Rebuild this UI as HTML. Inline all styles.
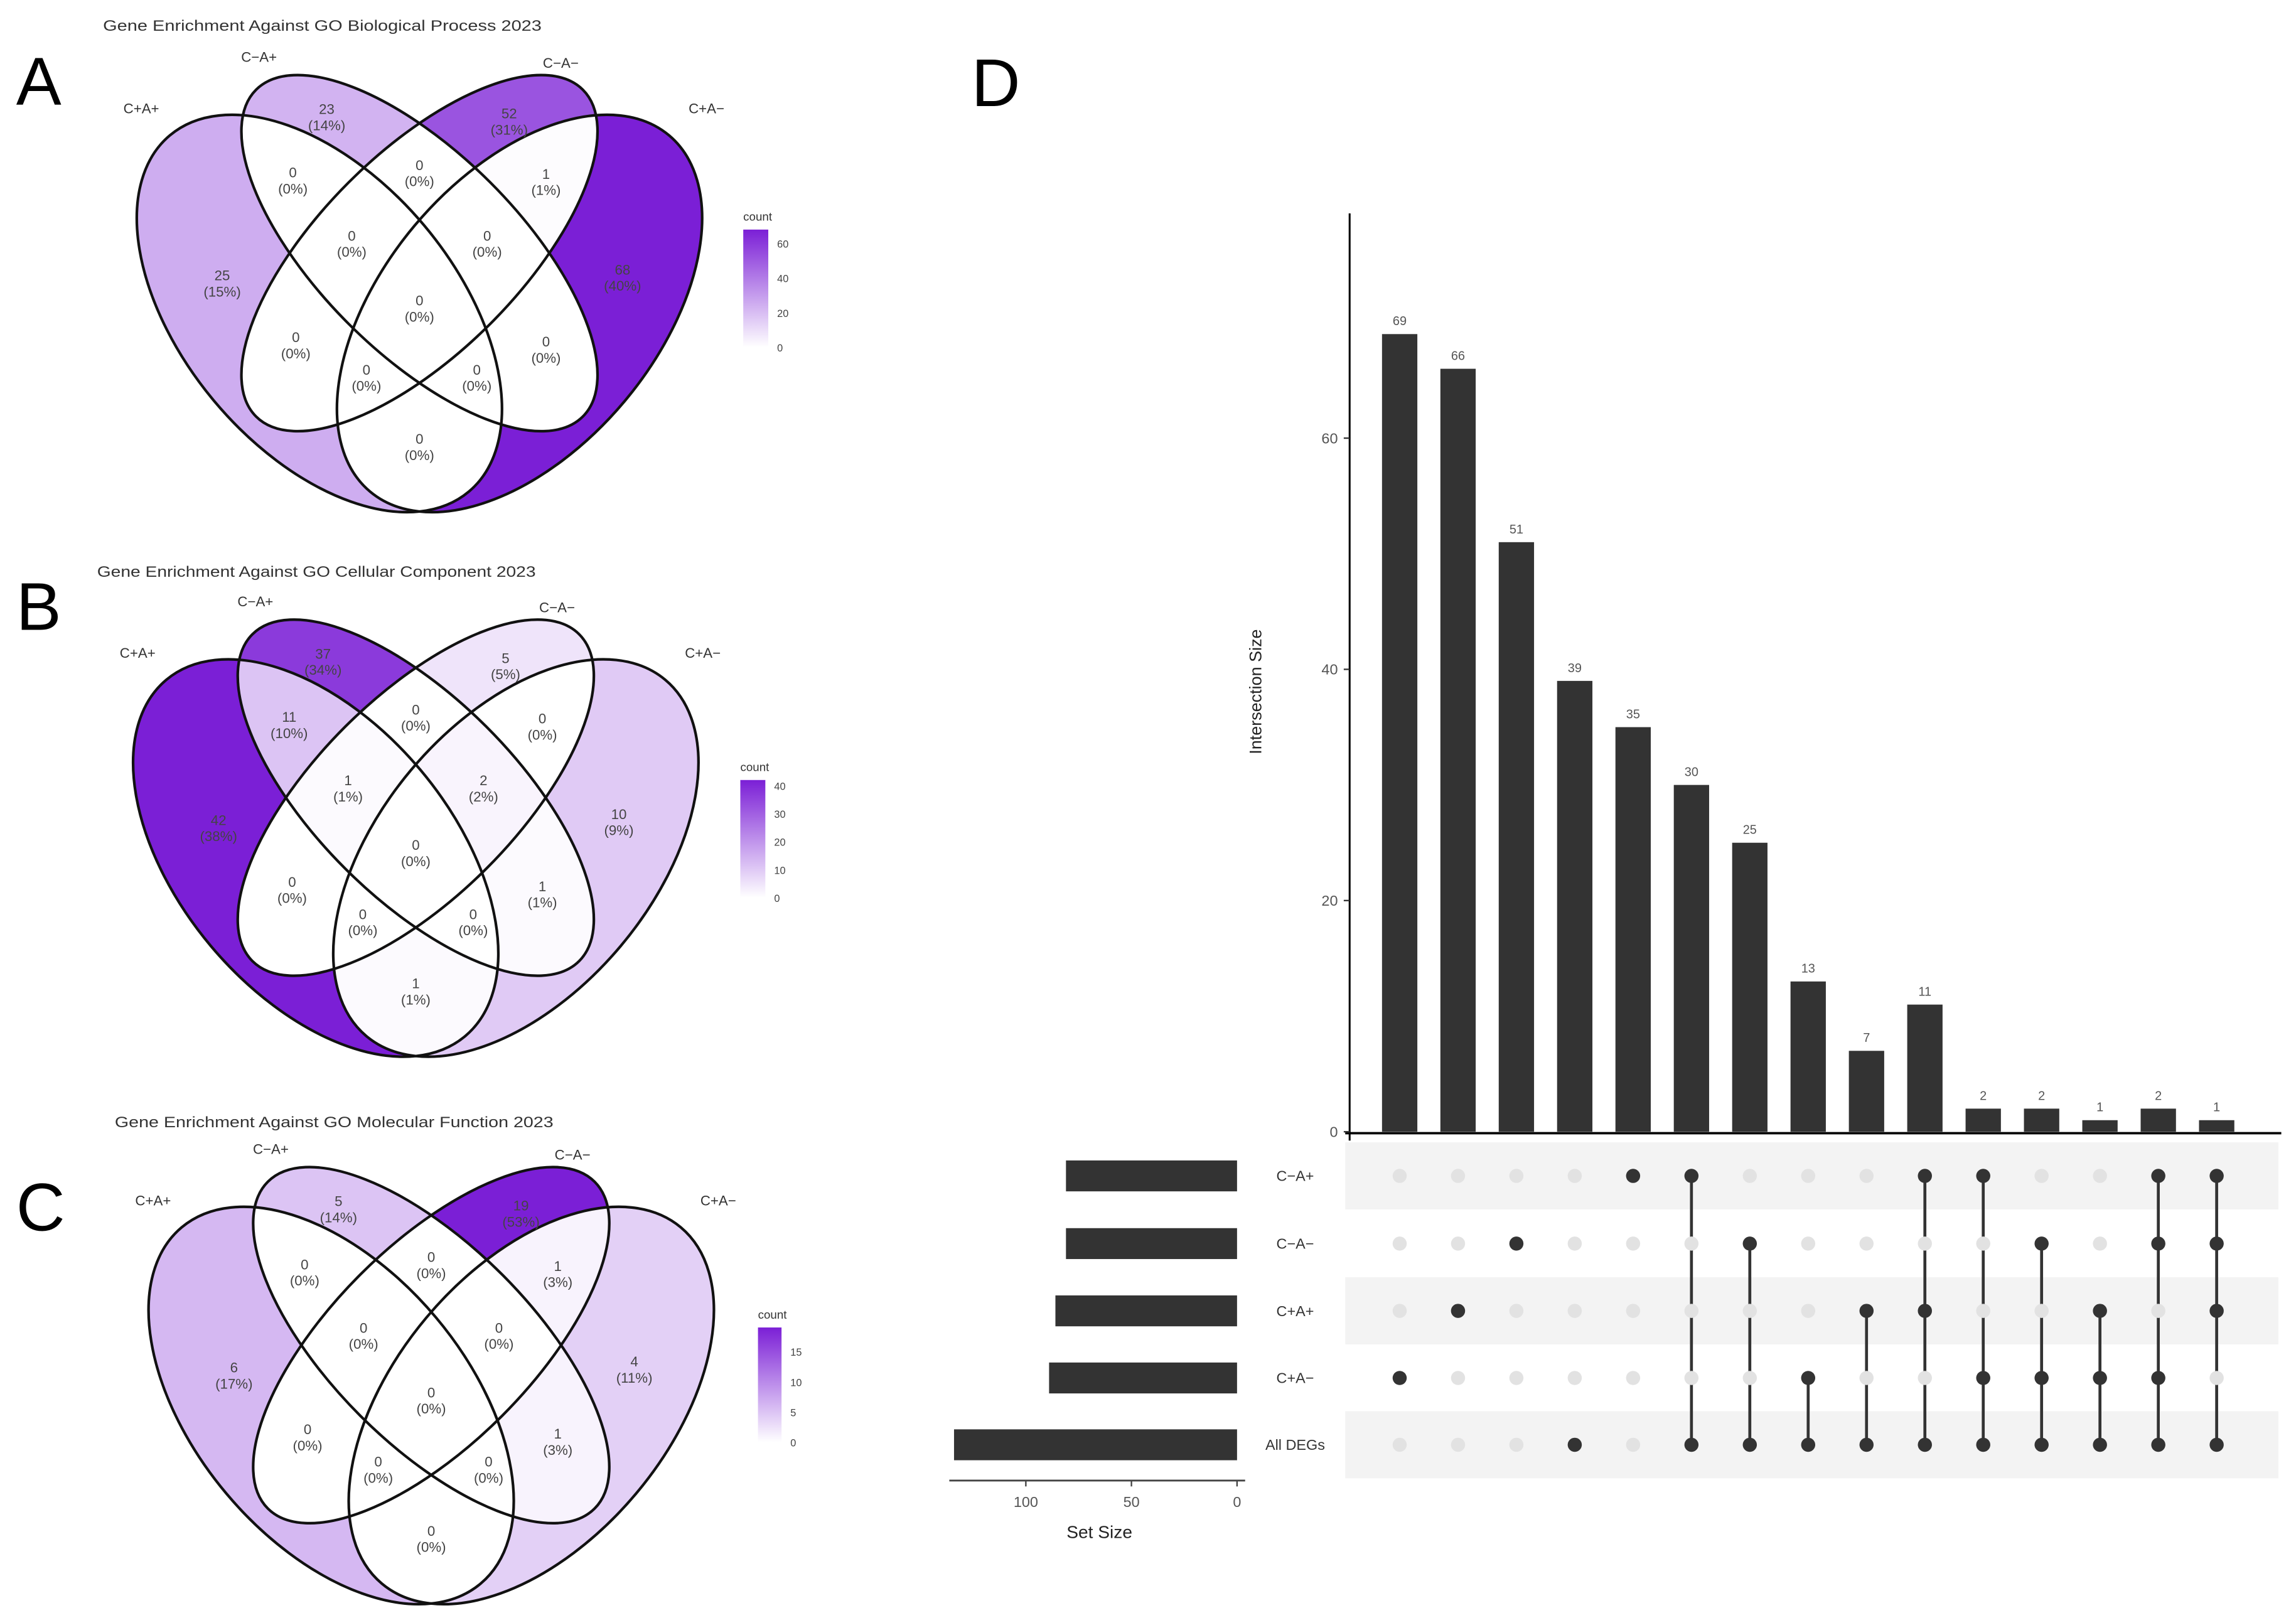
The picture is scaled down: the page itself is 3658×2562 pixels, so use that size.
<!DOCTYPE html>
<html><head><meta charset="utf-8"><style>
html,body{margin:0;padding:0;background:#fff;}
svg{display:block;font-family:"Liberation Sans",sans-serif;}
</style></head><body>
<svg id="root" width="3658" height="2562" viewBox="0 0 1560 1092.6" preserveAspectRatio="none" xmlns="http://www.w3.org/2000/svg">
<defs>
  <clipPath id="in0" clipPathUnits="userSpaceOnUse"><ellipse cx="217" cy="213" rx="158" ry="93" transform="rotate(50 217 213)"/></clipPath>
  <clipPath id="in1" clipPathUnits="userSpaceOnUse"><ellipse cx="285" cy="172" rx="157" ry="68" transform="rotate(45 285 172)"/></clipPath>
  <clipPath id="in2" clipPathUnits="userSpaceOnUse"><ellipse cx="285" cy="172" rx="157" ry="68" transform="rotate(-45 285 172)"/></clipPath>
  <clipPath id="in3" clipPathUnits="userSpaceOnUse"><ellipse cx="353" cy="213" rx="158" ry="93" transform="rotate(-50 353 213)"/></clipPath>
  <mask id="out0" maskUnits="userSpaceOnUse" x="-100" y="-100" width="800" height="700"><rect x="-100" y="-100" width="800" height="700" fill="#fff"/><ellipse cx="217" cy="213" rx="158" ry="93" transform="rotate(50 217 213)" fill="#000"/></mask>
  <mask id="out1" maskUnits="userSpaceOnUse" x="-100" y="-100" width="800" height="700"><rect x="-100" y="-100" width="800" height="700" fill="#fff"/><ellipse cx="285" cy="172" rx="157" ry="68" transform="rotate(45 285 172)" fill="#000"/></mask>
  <mask id="out2" maskUnits="userSpaceOnUse" x="-100" y="-100" width="800" height="700"><rect x="-100" y="-100" width="800" height="700" fill="#fff"/><ellipse cx="285" cy="172" rx="157" ry="68" transform="rotate(-45 285 172)" fill="#000"/></mask>
  <mask id="out3" maskUnits="userSpaceOnUse" x="-100" y="-100" width="800" height="700"><rect x="-100" y="-100" width="800" height="700" fill="#fff"/><ellipse cx="353" cy="213" rx="158" ry="93" transform="rotate(-50 353 213)" fill="#000"/></mask>
  <linearGradient id="lg" x1="0" y1="1" x2="0" y2="0"><stop offset="0" stop-color="#ffffff"/><stop offset="1" stop-color="#7b1fd6"/></linearGradient>
</defs>
<g id="panels"></g>
<g id="upset"></g>
</svg>
<script>
// ---- Venn data ----
const vennTitles = ["Gene Enrichment Against GO Biological Process 2023","Gene Enrichment Against GO Cellular Component 2023","Gene Enrichment Against GO Molecular Function 2023"];
const vennLetters = ["A","B","C"];
const setNames = ["C+A+","C\u2212A+","C\u2212A\u2212","C+A\u2212"];
const countsA = [25,23,52,68,0,0,1,0,0,0,0,0,0,0,0];
const pctA    = [15,14,31,40,0,0,1,0,0,0,0,0,0,0,0];
const countsB = [42,37,5,10,11,0,0,1,2,0,0,1,0,0,1];
const pctB    = [38,34,5,9,10,0,0,1,2,0,0,1,0,0,1];
const countsC = [6,5,19,4,0,0,1,0,0,0,0,1,0,0,0];
const pctC    = [17,14,53,11,0,0,3,0,0,0,0,3,0,0,0];
const legendTicksA = [0,20,40,60];
const legendTicksB = [0,10,20,30,40];
const legendTicksC = [0,5,10,15];
// ---- UpSet data ----
const interSizes = [69,66,51,39,35,30,25,13,7,11,2,2,1,2,1];
const rowNames = ["C\u2212A+","C\u2212A\u2212","C+A+","C+A\u2212","All DEGs"];
const setSizes = [81,81,86,89,134];
const membership = [[3],[2],[1],[4],[0],[0,4],[1,4],[3,4],[2,4],[0,2,4],[0,3,4],[1,3,4],[2,3,4],[0,1,3,4],[0,1,2,4]];
const yTicks = [0,20,40,60];
const setTicks = [100,50,0];

const NS="http://www.w3.org/2000/svg";
function mk(tag,attrs,parent,text){const e=document.createElementNS(NS,tag);for(const k in attrs)e.setAttribute(k,attrs[k]);if(text!==undefined)e.textContent=text;parent.appendChild(e);return e;}

// region geometry (layout, in panel-local coordinates)
const regMember=[[1,0,0,0],[0,1,0,0],[0,0,1,0],[0,0,0,1],[1,1,0,0],[0,1,1,0],[0,0,1,1],[1,1,1,0],[0,1,1,1],[1,1,1,1],[1,0,1,0],[0,1,0,1],[1,0,1,1],[1,1,0,1],[1,0,0,1]];
const regPos=[[151,192],[222,79],[346,82],[423,188],[199,122],[285,117],[371,123],[239,165],[331,165],[285,209],[201,234],[371,237],[249,256],[324,256],[285,303]];
const ells=[[217,213,158,93,50],[285,172,157,68,45],[285,172,157,68,-45],[353,213,158,93,-50]];
const panelOff=[[0,0],[-2.5,370],[8,742]];
const titleX=[70,66,78];
const legendPos=[[505,156,17,80,68],[503,530,17,80,42],[515,902,16,78,19]];
const allCounts=[countsA,countsB,countsC], allPct=[pctA,pctB,pctC], allTicks=[legendTicksA,legendTicksB,legendTicksC];

function col(v,max){const t=Math.min(1,v/max);const r=Math.round(255+(123-255)*t),g=Math.round(255+(31-255)*t),b=Math.round(255+(214-255)*t);return `rgb(${r},${g},${b})`;}

const panels=document.getElementById('panels');
for(let p=0;p<3;p++){
  const [ox,oy]=panelOff[p];
  const pg=mk('g',{},panels);
  
  
  const lt=mk('text',{x:11,y:[71,428,836][p],'font-size':46,fill:'#000'},pg,vennLetters[p]);
  
  
  const tt=mk('text',{x:titleX[p],y:[21,392,766][p],'font-size':10.3,fill:'#333',textLength:298,lengthAdjust:'spacingAndGlyphs'},pg,vennTitles[p]);
  
  
  const g=mk('g',{transform:`translate(${ox},${oy})`},pg);
  const counts=allCounts[p], pcts=allPct[p];
  const mx=legendPos[p][4];
  for(let r=0;r<15;r++){
    let cur=g;
    regMember[r].forEach((m,i)=>{ if(m){cur=mk('g',{'clip-path':`url(#in${i})`},cur);} });
    regMember[r].forEach((m,i)=>{ if(!m){cur=mk('g',{mask:`url(#out${i})`},cur);} });
    const rr=mk('rect',{x:50,y:20,width:470,height:340,fill:col(counts[r],mx)},cur);
    
    
  }
  ells.forEach((e,i)=>{
    const el=mk('ellipse',{cx:e[0],cy:e[1],rx:e[2],ry:e[3],transform:`rotate(${e[4]} ${e[0]} ${e[1]})`,fill:'none',stroke:'#111','stroke-width':1.8},g);
    
    
  });
  for(let r=0;r<15;r++){
    const [x,y]=regPos[r];
    const t=mk('text',{x:x,y:y-1.5,'text-anchor':'middle','font-size':9.5,fill:'#444'},g,String(counts[r]));
    
    
    const t2=mk('text',{x:x,y:y+9.5,'text-anchor':'middle','font-size':9.5,fill:'#444'},g,'('+pcts[r]+'%)');
    
    
  }
  const lp=[[96,77],[176,42],[381,46],[480,77]];
  setNames.forEach((n,i)=>{
    const t=mk('text',{x:lp[i][0],y:lp[i][1],'text-anchor':'middle','font-size':9.5,fill:'#333'},g,n);
    
    
  });
  // legend
  const [lx,ly,lw,lh,lmax]=legendPos[p];
  const lgG=mk('g',{},pg);
  
  
  mk('text',{x:lx,y:ly-6,'font-size':8,fill:'#333'},lgG,'count');
  mk('rect',{x:lx,y:ly,width:lw,height:lh,fill:'url(#lg)'},lgG);
  allTicks[p].forEach(v=>{
    const yy=ly+lh-(v/lmax)*lh;
    mk('text',{x:lx+lw+6,y:yy+2.8,'font-size':7,fill:'#444'},lgG,String(v));
  });
}

// ---- UpSet ----
const up=document.getElementById('upset');
const x0=951, dx=39.65, bw=24;
const yZero=769, yUnit=(769-297.7)/60;
const xs=i=>x0+i*dx;
const ys=v=>yZero-v*yUnit;
const rowY=[799,845,890.7,936.3,981.7];
const sz0=840.5, szUnit=1.435;
const sx=v=>sz0-v*szUnit;

const dl=mk('text',{x:660,y:72,'font-size':46,fill:'#000'},up,'D');


// stripes
[0,2,4].forEach(r=>{const s=mk('rect',{x:914,y:rowY[r]-22.8,width:634,height:45.6,fill:'#f3f3f3'},up);

});
// axes
mk('line',{x1:917,y1:145,x2:917,y2:775,stroke:'#000','stroke-width':1.3},up);
mk('line',{x1:914,y1:770,x2:1550,y2:770,stroke:'#000','stroke-width':1.6},up);
yTicks.forEach(v=>{
  mk('line',{x1:913,y1:ys(v),x2:917,y2:ys(v),stroke:'#333','stroke-width':1},up);
  const t=mk('text',{x:909,y:ys(v)+3.5,'text-anchor':'end','font-size':10,fill:'#555'},up,String(v));
  
  
});
const yt=mk('text',{x:0,y:0,transform:'translate(857,470) rotate(-90)','text-anchor':'middle','font-size':11.5,fill:'#222'},up,'Intersection Size');


interSizes.forEach((v,i)=>{
  const b=mk('rect',{x:xs(i)-bw/2,y:ys(v),width:bw,height:yZero-ys(v),fill:'#333'},up);
  
  
  const t=mk('text',{x:xs(i),y:ys(v)-6,'text-anchor':'middle','font-size':8.5,fill:'#555'},up,String(v));
  
  
});
// matrix
membership.forEach((m,i)=>{
  const lo=Math.min(...m), hi=Math.max(...m);
  if(hi>lo){const l=mk('line',{x1:xs(i),y1:rowY[lo],x2:xs(i),y2:rowY[hi],stroke:'#333','stroke-width':2},up);
    
    }
  rowNames.forEach((n,r)=>{
    const on=m.includes(r);
    const c=mk('circle',{cx:xs(i),cy:rowY[r],r:4.8,fill:on?'#333':'#e2e2e2'},up);
    
    
  });
});
// set sizes
rowNames.forEach((n,r)=>{
  const b=mk('rect',{x:sx(setSizes[r]),y:rowY[r]-10.5,width:sz0-sx(setSizes[r]),height:21,fill:'#333'},up);
  
  
  const t=mk('text',{x:880,y:rowY[r]+3.5,'text-anchor':'middle','font-size':10,fill:'#333'},up,n);
  
  
});
mk('line',{x1:645,y1:1006,x2:846,y2:1006,stroke:'#444','stroke-width':1.2},up);
setTicks.forEach(v=>{
  mk('line',{x1:sx(v),y1:1006,x2:sx(v),y2:1010,stroke:'#444','stroke-width':1},up);
  const t=mk('text',{x:sx(v),y:1024,'text-anchor':'middle','font-size':10,fill:'#555'},up,String(v));
  
  
});
const st=mk('text',{x:747,y:1045,'text-anchor':'middle','font-size':12,fill:'#222'},up,'Set Size');


</script>
</body></html>
